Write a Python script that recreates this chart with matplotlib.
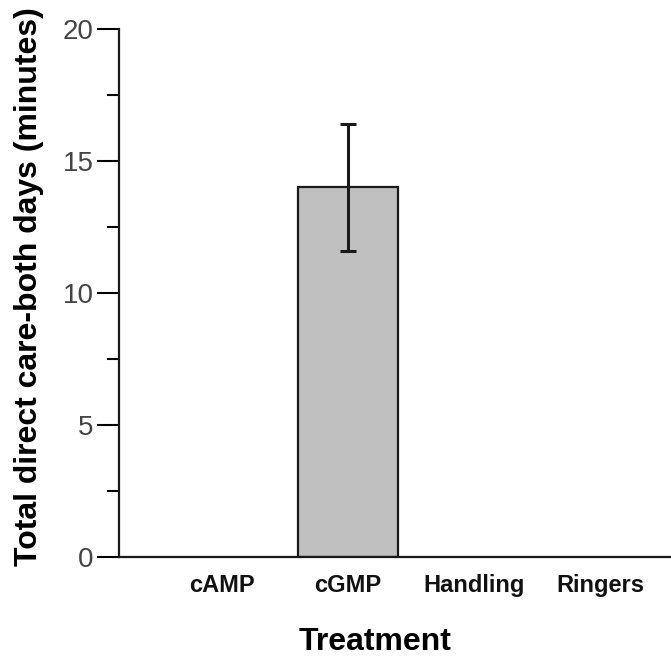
import numpy as np
import matplotlib
matplotlib.use("Agg")
import matplotlib.pyplot as plt
from matplotlib.ticker import MultipleLocator

plt.rcParams['font.family'] = ['Liberation Sans', 'DejaVu Sans']

treatments = ["cAMP", "cGMP", "Handling", "Ringers"]
care_minutes = [0, 14.0, 0, 0]
care_err = [0, 2.4, 0, 0]

fig = plt.figure(figsize=(6.71, 6.62), dpi=100)
ax = fig.add_axes([0.177, 0.1586, 0.823, 0.7976])

x = np.arange(len(treatments))
for xi, v, e in zip(x, care_minutes, care_err):
    if v > 0:
        ax.bar(xi, v, width=0.80, color="#c0c0c0", edgecolor="#1a1a1a", linewidth=1.6, zorder=2)
        ax.errorbar(xi, v, yerr=e, fmt="none", ecolor="#1a1a1a", elinewidth=2.2,
                    capsize=6, capthick=2.2, zorder=3)

ax.set_xlim(-0.817, 3.56)
ax.set_ylim(0, 20)
ax.yaxis.set_major_locator(MultipleLocator(5))
ax.yaxis.set_minor_locator(MultipleLocator(2.5))
ax.set_xticks(x)
ax.set_xticklabels(treatments, fontsize=17, fontweight="bold", color="#111111")
ax.tick_params(axis="x", length=0, pad=12)
ax.tick_params(axis="y", which="major", length=16, width=1.5, pad=2,
               labelsize=20, labelcolor="#444444")
ax.tick_params(axis="y", which="minor", length=9, width=1.5)

for s in ["top", "right"]:
    ax.spines[s].set_visible(False)
for s in ["left", "bottom"]:
    ax.spines[s].set_linewidth(1.6)
    ax.spines[s].set_color("#1a1a1a")

ax.set_ylabel("Total direct care-both days (minutes)", fontsize=23, fontweight="bold")
ax.yaxis.set_label_coords(-0.135, 0.512)
ax.set_xlabel("Treatment", fontsize=23, fontweight="bold")
ax.xaxis.set_label_coords(0.464, -0.133)

fig.savefig("out.png", dpi=100)
